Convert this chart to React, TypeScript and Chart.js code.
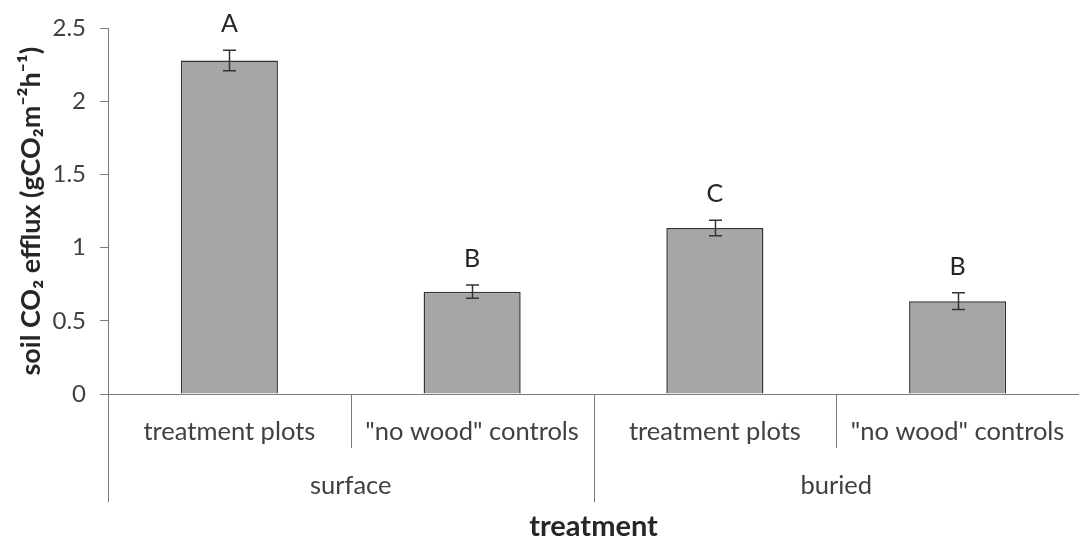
import React, { useEffect, useRef } from 'react';
import { Chart, registerables } from 'chart.js';

Chart.register(...registerables);

// ---- data ----
const subCategories = ['treatment plots', '"no wood" controls', 'treatment plots', '"no wood" controls'];
const groups = ['surface', 'buried'];
const fluxMeans = [2.28, 0.70, 1.135, 0.635];
const fluxErrors = [0.07, 0.045, 0.053, 0.058];
const sigLetters = ['A', 'B', 'C', 'B'];
const yTicks = [0, 0.5, 1, 1.5, 2, 2.5];

const FONT = 'Lato, "Open Sans", sans-serif';
const axisColor = '#7a7a7a';
const textColor = '#404040';

const errorBarPlugin = {
  id: 'errorBars',
  afterDatasetsDraw(chart: any) {
    const { ctx } = chart;
    const y = chart.scales.y;
    const meta = chart.getDatasetMeta(0);
    ctx.save();
    meta.data.forEach((bar: any, i: number) => {
      const x = Math.round(bar.x) + 0.5;
      const top = y.getPixelForValue(fluxMeans[i] + fluxErrors[i]);
      const bot = y.getPixelForValue(fluxMeans[i] - fluxErrors[i]);
      ctx.strokeStyle = '#333333';
      ctx.lineWidth = 1.5;
      ctx.beginPath();
      ctx.moveTo(x, top);
      ctx.lineTo(x, bot);
      ctx.moveTo(x - 6.5, top);
      ctx.lineTo(x + 6.5, top);
      ctx.moveTo(x - 6.5, bot);
      ctx.lineTo(x + 6.5, bot);
      ctx.stroke();
      ctx.fillStyle = '#262626';
      ctx.font = '25px ' + FONT;
      ctx.textAlign = 'center';
      ctx.textBaseline = 'alphabetic';
      ctx.fillText(sigLetters[i], bar.x, top - 18);
    });
    ctx.restore();
  },
};

const separatorPlugin = {
  id: 'separators',
  afterDraw(chart: any) {
    const { ctx } = chart;
    const x = chart.scales.x;
    const x2 = chart.scales.x2;
    const n = subCategories.length;
    ctx.save();
    ctx.strokeStyle = axisColor;
    ctx.lineWidth = 1;
    for (let i = 0; i < n; i++) {
      const px = Math.round(x.getPixelForValue(i - 0.5)) + 0.5;
      const yEnd = i % 2 === 0 ? x2.top + x.height : x.bottom;
      ctx.beginPath();
      ctx.moveTo(px, x.top);
      ctx.lineTo(px, yEnd);
      ctx.stroke();
    }
    ctx.restore();
  },
};

export default function App() {
  const ref = useRef<HTMLCanvasElement | null>(null);
  useEffect(() => {
    if (!ref.current) return;
    const chart = new Chart(ref.current, {
      type: 'bar',
      data: {
        labels: subCategories,
        datasets: [
          {
            data: fluxMeans,
            backgroundColor: '#a6a6a8',
            borderColor: '#333333',
            borderWidth: 1.5,
            barPercentage: 0.4,
            categoryPercentage: 1,
          },
        ],
      },
      options: {
        animation: false,
        responsive: false,
        maintainAspectRatio: false,
        layout: { padding: { top: 24.5, right: 0, bottom: 0, left: 0 } },
        plugins: { legend: { display: false }, tooltip: { enabled: false } },
        scales: {
          x: {
            type: 'category',
            position: 'bottom',
            weight: 0,
            offset: true,
            grid: { display: false, drawTicks: false, drawOnChartArea: false },
            border: { display: true, color: axisColor, width: 1 },
            ticks: {
              color: textColor,
              font: { family: FONT, size: 25.5 },
              padding: 22.7,
              maxRotation: 0,
              autoSkip: false,
            },
            afterFit: (s: any) => {
              s.height = 54;
              s.paddingLeft = 0;
              s.paddingRight = 0;
            },
          },
          x2: {
            type: 'category',
            position: 'bottom',
            weight: 1,
            offset: true,
            labels: groups,
            grid: { display: false, drawTicks: false, drawOnChartArea: false },
            border: { display: false },
            ticks: {
              color: textColor,
              font: { family: FONT, size: 25.5 },
              padding: 22.7,
              maxRotation: 0,
              autoSkip: false,
            },
            title: {
              display: true,
              text: 'treatment',
              color: '#262626',
              font: { family: FONT, size: 29, weight: 'bold' },
              padding: { top: 2, bottom: 0 },
            },
            afterFit: (s: any) => {
              s.height = 96;
              s.paddingLeft = 0;
              s.paddingRight = 0;
            },
          },
          y: {
            type: 'linear',
            min: 0,
            max: 2.5,
            afterBuildTicks: (s: any) => {
              s.ticks = yTicks.map((v) => ({ value: v }));
            },
            grid: {
              drawOnChartArea: false,
              drawTicks: true,
              tickLength: 8,
              color: axisColor,
            },
            border: { display: true, color: axisColor, width: 1 },
            ticks: {
              color: textColor,
              font: { family: FONT, size: 24 },
              padding: 14,
              callback: (v: any) => String(v),
            },
            title: {
              display: true,
              text: 'soil CO\u2082 efflux (gCO\u2082m\u207B\u00B2h\u207B\u00B9)',
              color: '#262626',
              font: { family: FONT, size: 27, weight: 'bold' },
              padding: { top: 15, bottom: 0 },
            },
            afterFit: (s: any) => {
              s.width = 108;
            },
          },
        },
      },
      plugins: [errorBarPlugin, separatorPlugin],
    } as any);
    return () => chart.destroy();
  }, []);
  return (
    <div style={{ position: 'absolute', left: 0, top: 0, width: 1079, height: 544 }}>
      <canvas ref={ref} width={1079} height={544} style={{ display: 'block' }} />
    </div>
  );
}
